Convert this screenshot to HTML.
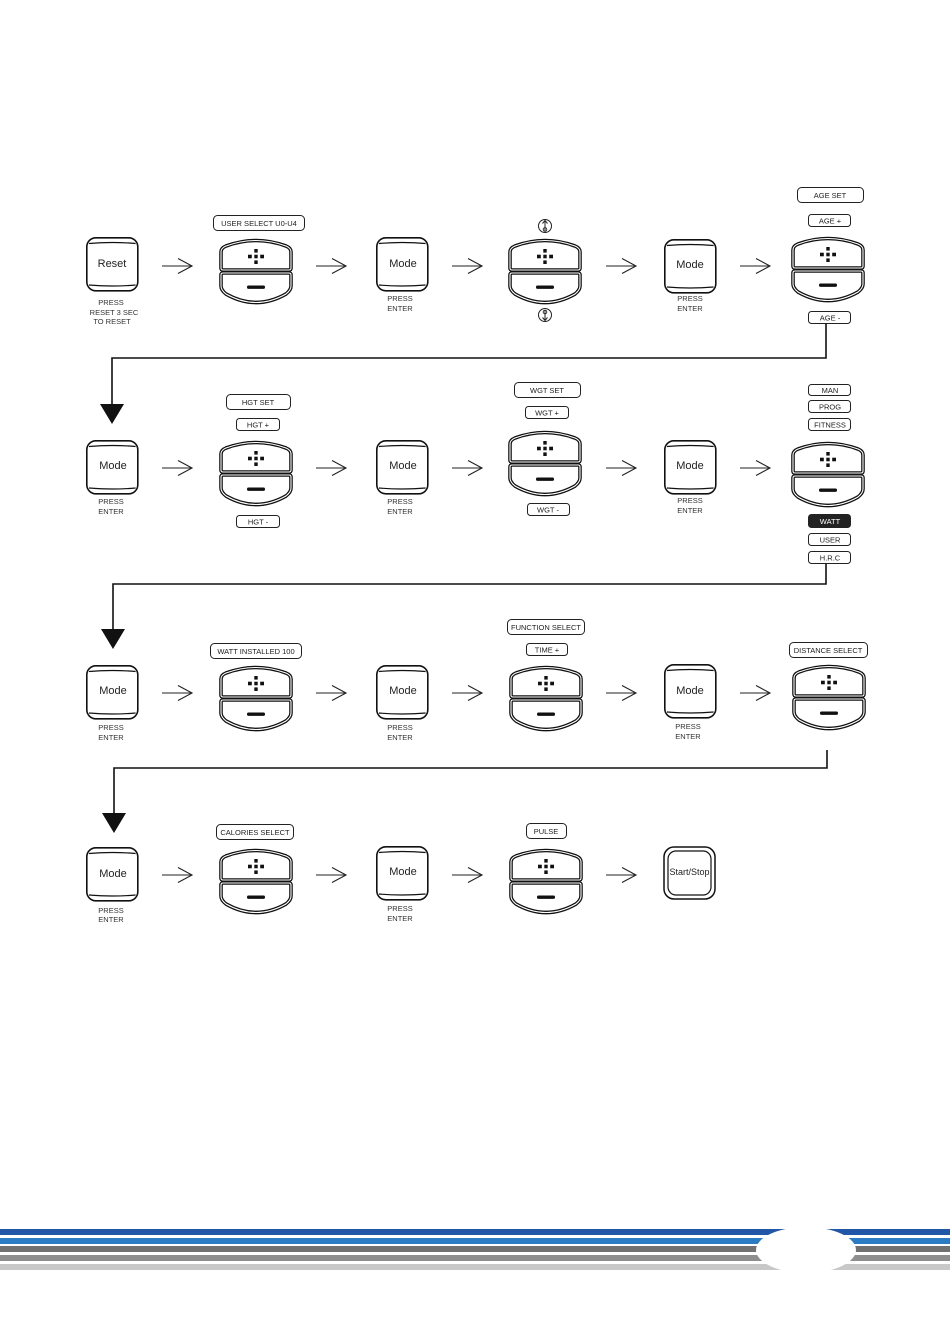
<!DOCTYPE html>
<html><head><meta charset="utf-8"><style>
html,body{margin:0;padding:0;background:#fff;}
svg{display:block;}
text{font-family:"Liberation Sans",sans-serif;fill:#222;}
.l{font-size:7.5px;text-anchor:middle;}
.c{font-size:7.5px;text-anchor:middle;fill:#333;}
.m{font-size:11px;text-anchor:middle;}
</style></head><body>
<svg width="950" height="1344" viewBox="0 0 950 1344" xmlns="http://www.w3.org/2000/svg">
<defs>
<g id="btn">
  <path d="M1,29 L1,13 Q1,9 6,7 Q36,-4 66,7 Q71,9 71,13 L71,29 Q71,31 69,31 L3,31 Q1,31 1,29 Z" fill="#fff" stroke="#111" stroke-width="3.6"/>
  <path d="M1,29 L1,13 Q1,9 6,7 Q36,-4 66,7 Q71,9 71,13 L71,29 Q71,31 69,31 L3,31 Q1,31 1,29 Z" fill="none" stroke="#fff" stroke-width="1.1"/>
  <path d="M3,34 L69,34 Q71,34 71,36 L71,47 Q71,51 66,55 Q36,72 6,55 Q1,51 1,47 L1,36 Q1,34 3,34 Z" fill="#fff" stroke="#111" stroke-width="3.6"/>
  <path d="M3,34 L69,34 Q71,34 71,36 L71,47 Q71,51 66,55 Q36,72 6,55 Q1,51 1,47 L1,36 Q1,34 3,34 Z" fill="none" stroke="#fff" stroke-width="1.1"/>
  <rect x="34.3" y="10" width="3.4" height="3.6" fill="#111"/>
  <rect x="34.3" y="21.4" width="3.4" height="3.6" fill="#111"/>
  <rect x="28" y="15.7" width="3.8" height="3.6" fill="#111"/>
  <rect x="34.3" y="15.7" width="3.4" height="3.6" fill="#111"/>
  <rect x="40.2" y="15.7" width="3.8" height="3.6" fill="#111"/>
  <rect x="27" y="46.5" width="18" height="3.4" rx="1.5" fill="#111"/>
</g>
<g id="mode">
  <rect x="0.8" y="0.8" width="51" height="53" rx="9" fill="#fff" stroke="#111" stroke-width="1.6"/>
  <path d="M3,6.5 Q26,4.5 49.6,6.5" fill="none" stroke="#111" stroke-width="1.2"/>
  <path d="M3,48 Q26,50 49.6,48" fill="none" stroke="#111" stroke-width="1.2"/>
</g>
<g id="arr">
  <line x1="0" y1="0" x2="30" y2="0" stroke="#222" stroke-width="1.1"/>
  <polyline points="16,-7.5 30,0 16,7.5" fill="none" stroke="#222" stroke-width="1.1"/>
</g>
</defs>

<!-- ROW 1 -->
<use href="#mode" x="86" y="237"/><text class="m" x="112" y="267">Reset</text>
<text class="c" x="111" y="305">PRESS</text><text class="c" x="114" y="315">RESET 3 SEC</text><text class="c" x="112" y="324">TO RESET</text>
<use href="#arr" x="162" y="266"/>
<rect x="213.5" y="215.5" width="91" height="15" rx="4" fill="#fff" stroke="#222" stroke-width="1"/><text class="l" x="259" y="226">USER SELECT U0-U4</text>
<use href="#btn" x="220" y="239"/>
<use href="#arr" x="316" y="266"/>
<use href="#mode" x="376" y="237"/><text class="m" x="403" y="267">Mode</text>
<text class="c" x="400" y="301">PRESS</text><text class="c" x="400" y="311">ENTER</text>
<use href="#arr" x="452" y="266"/>
<circle cx="545" cy="226" r="6.5" fill="#fff" stroke="#222" stroke-width="1"/>
<path d="M545,231 L545,221 M542.5,223.5 L545,220.5 L547.5,223.5" fill="none" stroke="#222" stroke-width="1"/><circle cx="545" cy="229.5" r="1.8" fill="none" stroke="#222" stroke-width="0.9"/>
<use href="#btn" x="509" y="239"/>
<circle cx="545" cy="315" r="6.5" fill="#fff" stroke="#222" stroke-width="1"/>
<path d="M545,310 L545,320 M542.5,317.5 L545,320.5 L547.5,317.5" fill="none" stroke="#222" stroke-width="1"/><circle cx="545" cy="312" r="1.8" fill="none" stroke="#222" stroke-width="0.9"/>
<use href="#arr" x="606" y="266"/>
<use href="#mode" x="664" y="239"/><text class="m" x="690" y="268">Mode</text>
<text class="c" x="690" y="301">PRESS</text><text class="c" x="690" y="311">ENTER</text>
<use href="#arr" x="740" y="266"/>
<rect x="797.5" y="187.5" width="66" height="15" rx="4" fill="#fff" stroke="#222" stroke-width="1"/><text class="l" x="830" y="198">AGE SET</text>
<rect x="808.5" y="214.5" width="42" height="12" rx="3" fill="#fff" stroke="#222" stroke-width="1"/><text class="l" x="830" y="223.5">AGE +</text>
<use href="#btn" x="792" y="237"/>
<rect x="808.5" y="311.5" width="42" height="12" rx="3" fill="#fff" stroke="#222" stroke-width="1"/><text class="l" x="830" y="320.5">AGE -</text>

<!-- connector 1 -->
<polyline points="826,324 826,358 112,358 112,405" fill="none" stroke="#111" stroke-width="1.6"/>
<polygon points="100,404 124,404 112,424" fill="#111"/>

<!-- ROW 2 -->
<use href="#mode" x="86" y="440"/><text class="m" x="113" y="469">Mode</text>
<text class="c" x="111" y="504">PRESS</text><text class="c" x="111" y="514">ENTER</text>
<use href="#arr" x="162" y="468"/>
<rect x="226.5" y="394.5" width="64" height="15" rx="4" fill="#fff" stroke="#222" stroke-width="1"/><text class="l" x="258" y="405">HGT SET</text>
<rect x="236.5" y="418.5" width="43" height="12" rx="3" fill="#fff" stroke="#222" stroke-width="1"/><text class="l" x="258" y="427.5">HGT +</text>
<use href="#btn" x="220" y="441"/>
<rect x="236.5" y="515.5" width="43" height="12" rx="3" fill="#fff" stroke="#222" stroke-width="1"/><text class="l" x="258" y="524.5">HGT -</text>
<use href="#arr" x="316" y="468"/>
<use href="#mode" x="376" y="440"/><text class="m" x="403" y="469">Mode</text>
<text class="c" x="400" y="504">PRESS</text><text class="c" x="400" y="514">ENTER</text>
<use href="#arr" x="452" y="468"/>
<rect x="514.5" y="382.5" width="66" height="15" rx="4" fill="#fff" stroke="#222" stroke-width="1"/><text class="l" x="547" y="393">WGT SET</text>
<rect x="525.5" y="406.5" width="43" height="12" rx="3" fill="#fff" stroke="#222" stroke-width="1"/><text class="l" x="547" y="415.5">WGT +</text>
<use href="#btn" x="509" y="431"/>
<rect x="527.5" y="503.5" width="42" height="12" rx="3" fill="#fff" stroke="#222" stroke-width="1"/><text class="l" x="548" y="512.5">WGT -</text>
<use href="#arr" x="606" y="468"/>
<use href="#mode" x="664" y="440"/><text class="m" x="690" y="469">Mode</text>
<text class="c" x="690" y="503">PRESS</text><text class="c" x="690" y="513">ENTER</text>
<use href="#arr" x="740" y="468"/>
<rect x="808.5" y="384.5" width="42" height="11" rx="3" fill="#fff" stroke="#222" stroke-width="1"/><text class="l" x="830" y="393">MAN</text>
<rect x="808.5" y="400.5" width="42" height="12" rx="3" fill="#fff" stroke="#222" stroke-width="1"/><text class="l" x="830" y="409.5">PROG</text>
<rect x="808.5" y="418.5" width="42" height="12" rx="3" fill="#fff" stroke="#222" stroke-width="1"/><text class="l" x="830" y="427.5">FITNESS</text>
<use href="#btn" x="792" y="442"/>
<rect x="808.5" y="514.5" width="42" height="13" rx="3" fill="#222" stroke="#222" stroke-width="1"/><text class="l" x="830" y="524" style="fill:#fff">WATT</text>
<rect x="808.5" y="533.5" width="42" height="12" rx="3" fill="#fff" stroke="#222" stroke-width="1"/><text class="l" x="830" y="542.5">USER</text>
<rect x="808.5" y="551.5" width="42" height="12" rx="3" fill="#fff" stroke="#222" stroke-width="1"/><text class="l" x="830" y="560.5">H.R.C</text>

<!-- connector 2 -->
<polyline points="826,564 826,584 113,584 113,630" fill="none" stroke="#111" stroke-width="1.6"/>
<polygon points="101,629 125,629 113,649" fill="#111"/>

<!-- ROW 3 -->
<use href="#mode" x="86" y="665"/><text class="m" x="113" y="694">Mode</text>
<text class="c" x="111" y="730">PRESS</text><text class="c" x="111" y="740">ENTER</text>
<use href="#arr" x="162" y="693"/>
<rect x="210.5" y="643.5" width="91" height="15" rx="4" fill="#fff" stroke="#222" stroke-width="1"/><text class="l" x="256" y="654">WATT INSTALLED 100</text>
<use href="#btn" x="220" y="666"/>
<use href="#arr" x="316" y="693"/>
<use href="#mode" x="376" y="665"/><text class="m" x="403" y="694">Mode</text>
<text class="c" x="400" y="730">PRESS</text><text class="c" x="400" y="740">ENTER</text>
<use href="#arr" x="452" y="693"/>
<rect x="507.5" y="619.5" width="77" height="15" rx="4" fill="#fff" stroke="#222" stroke-width="1"/><text class="l" x="546" y="630">FUNCTION SELECT</text>
<rect x="526.5" y="643.5" width="41" height="12" rx="3" fill="#fff" stroke="#222" stroke-width="1"/><text class="l" x="547" y="652.5">TIME +</text>
<use href="#btn" x="510" y="666"/>
<use href="#arr" x="606" y="693"/>
<use href="#mode" x="664" y="664"/><text class="m" x="690" y="694">Mode</text>
<text class="c" x="688" y="729">PRESS</text><text class="c" x="688" y="739">ENTER</text>
<use href="#arr" x="740" y="693"/>
<rect x="789.5" y="642.5" width="78" height="15" rx="4" fill="#fff" stroke="#222" stroke-width="1"/><text class="l" x="828" y="653">DISTANCE SELECT</text>
<use href="#btn" x="793" y="665"/>

<!-- connector 3 -->
<polyline points="827,750 827,768 114,768 114,814" fill="none" stroke="#111" stroke-width="1.6"/>
<polygon points="102,813 126,813 114,833" fill="#111"/>

<!-- ROW 4 -->
<use href="#mode" x="86" y="847"/><text class="m" x="113" y="877">Mode</text>
<text class="c" x="111" y="913">PRESS</text><text class="c" x="111" y="922">ENTER</text>
<use href="#arr" x="162" y="875"/>
<rect x="216.5" y="824.5" width="77" height="15" rx="4" fill="#fff" stroke="#222" stroke-width="1"/><text class="l" x="255" y="835">CALORIES SELECT</text>
<use href="#btn" x="220" y="849"/>
<use href="#arr" x="316" y="875"/>
<use href="#mode" x="376" y="846"/><text class="m" x="403" y="875">Mode</text>
<text class="c" x="400" y="911">PRESS</text><text class="c" x="400" y="921">ENTER</text>
<use href="#arr" x="452" y="875"/>
<rect x="526.5" y="823.5" width="40" height="15" rx="4" fill="#fff" stroke="#222" stroke-width="1"/><text class="l" x="546" y="834">PULSE</text>
<use href="#btn" x="510" y="849"/>
<use href="#arr" x="606" y="875"/>
<rect x="664" y="847" width="51" height="52" rx="10" fill="#fff" stroke="#111" stroke-width="1.5"/>
<rect x="668" y="851" width="43" height="44" rx="8" fill="#fff" stroke="#111" stroke-width="1.2"/>
<text x="689.5" y="875" style="font-size:9px;text-anchor:middle">Start/Stop</text>

<!-- footer stripes -->
<rect x="0" y="1229" width="950" height="6" fill="#2257a8"/>
<rect x="0" y="1238" width="950" height="6" fill="#2b7cc4"/>
<rect x="0" y="1246" width="950" height="6" fill="#717171"/>
<rect x="0" y="1255" width="950" height="6" fill="#8e8e8e"/>
<rect x="0" y="1264" width="950" height="6" fill="#c8c8c8"/>
<ellipse cx="806" cy="1250" rx="50" ry="23" fill="#fff"/>
</svg>
</body></html>
